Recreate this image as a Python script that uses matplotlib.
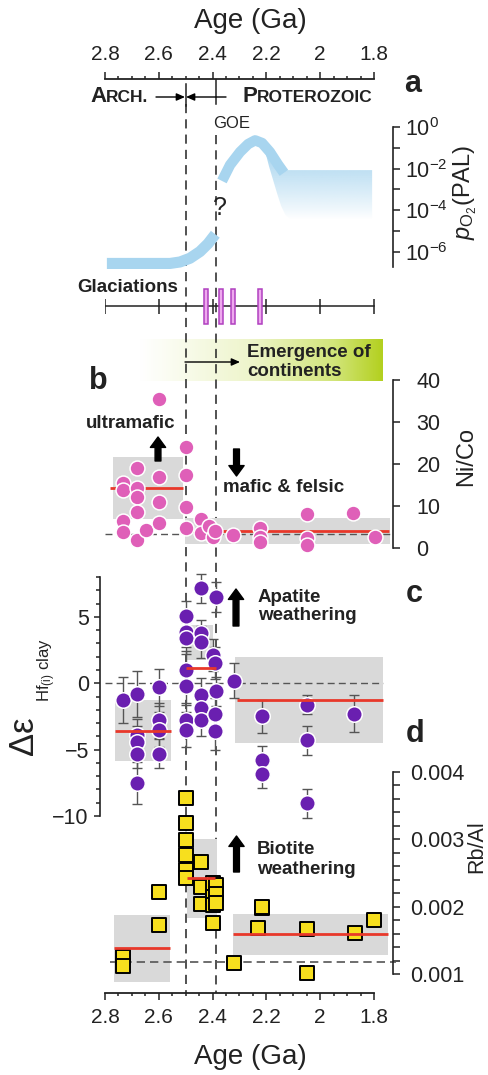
import numpy as np
import matplotlib.pyplot as plt
from matplotlib.colors import LinearSegmentedColormap, to_rgb
from matplotlib.patches import Polygon, FancyArrowPatch

plt.rcParams['font.family'] = ['Liberation Sans', 'DejaVu Sans']
plt.rcParams['mathtext.fontset'] = 'custom'
plt.rcParams['mathtext.rm'] = 'Liberation Sans'
plt.rcParams['mathtext.it'] = 'Liberation Sans:italic'
plt.rcParams['mathtext.bf'] = 'Liberation Sans:bold'

# ---------------- data ----------------
age_ticks = [2.8, 2.6, 2.4, 2.2, 2.0, 1.8]
age_labels = ['2.8', '2.6', '2.4', '2.2', '2', '1.8']
vline_ages = [2.5, 2.386]            # Archean/Proterozoic boundary, GOE

# a: pO2 (log10 PAL)
arch_age = [2.793, 2.558, 2.521, 2.484, 2.447, 2.417, 2.39]
arch_log = [-6.55, -6.55, -6.48, -6.3, -5.98, -5.6, -5.15]
goe_age = [2.365, 2.335, 2.298, 2.268, 2.242, 2.216, 2.187, 2.157, 2.135]
goe_log = [-2.59, -1.82, -1.2, -0.82, -0.64, -0.77, -1.2, -1.8, -2.2]
plat_age = [2.215, 2.19, 2.16, 2.14, 1.807, 1.807, 2.10, 2.13, 2.145, 2.16, 2.175, 2.19, 2.20]
plat_log = [-0.75, -1.2, -1.75, -2.07, -2.07, -4.6, -4.6, -4.2, -3.8, -3.2, -2.55, -1.9, -1.4]
glac_age = [2.424, 2.368, 2.325, 2.225]

# b: Ni/Co
nico_age = [2.733, 2.733, 2.733, 2.733, 2.682, 2.682, 2.682, 2.682, 2.682, 2.649,
            2.60, 2.60, 2.60, 2.60, 2.50, 2.50, 2.50, 2.50,
            2.443, 2.443, 2.412, 2.397, 2.392, 2.323,
            2.224, 2.224, 2.224, 2.05, 2.05, 2.05, 1.877, 1.796]
nico = [15.5, 13.8, 6.5, 3.9, 19.0, 14.3, 12.2, 8.6, 1.9, 4.3,
        35.4, 17.0, 11.0, 5.9, 24.1, 17.4, 9.8, 4.8,
        6.8, 3.5, 5.2, 2.6, 4.0, 3.1,
        4.7, 2.7, 1.5, 8.1, 2.3, 0.7, 8.3, 2.7]
nico_box = [(2.77, 2.51, 6.8, 21.6), (2.503, 1.74, 1.0, 7.1)]
nico_mean = [(2.78, 2.51, 14.2), (2.49, 1.745, 4.0)]
nico_ref = 3.3

# c: delta epsilon Hf(i) clay
hf_age = [2.733, 2.682, 2.682, 2.682, 2.682, 2.682,
          2.60, 2.60, 2.60, 2.60,
          2.50, 2.50, 2.50, 2.50, 2.50, 2.50, 2.50,
          2.443, 2.443, 2.443, 2.443, 2.443, 2.443,
          2.387, 2.397, 2.392, 2.387, 2.392, 2.392,
          2.32, 2.218, 2.218, 2.218, 2.05, 2.05, 2.05, 1.873]
hf = [-1.26, -0.8, -3.9, -4.4, -5.3, -7.5,
      -0.3, -2.8, -3.5, -5.3,
      5.07, 3.9, 3.4, 1.0, -0.2, -2.8, -3.5,
      7.15, 3.8, 3.1, -0.9, -1.9, -2.8,
      6.5, 2.1, 1.5, -0.6, -2.3, -3.6,
      0.2, -2.5, -5.8, -6.8, -1.6, -4.3, -9.05, -2.3]
hf_err = [1.76, 1.76, 1.2, 1.2, 1.1, 1.6,
          1.38, 1.3, 1.3, 1.1,
          1.1, 1.2, 1.2, 1.4, 1.3, 1.2, 1.3,
          1.07, 1.0, 1.2, 1.3, 1.3, 1.2,
          1.1, 1.2, 1.2, 1.1, 1.2, 1.4,
          1.3, 1.26, 1.1, 1.1, 0.75, 1.1, 1.1, 1.4]
hf_box = [(2.763, 2.556, -5.86, -1.26), (2.496, 2.397, 1.76, 4.4), (2.317, 1.765, -4.5, 2.0)]
hf_mean = [(2.763, 2.556, -3.57), (2.5, 2.388, 1.13), (2.311, 1.765, -1.26)]
hf_ref = 0.0

# d: Rb/Al
rb_age = [2.50, 2.50, 2.50, 2.50, 2.50, 2.50,
          2.443, 2.443, 2.443,
          2.397, 2.397, 2.397, 2.397, 2.387, 2.387, 2.387,
          2.60, 2.60, 2.733, 2.733, 2.32,
          2.218, 2.215, 2.23, 2.05, 2.05, 1.87, 1.80]
rb = [0.003607, 0.003245, 0.002988, 0.002766, 0.002543, 0.00242,
      0.002666, 0.002286, 0.002039,
      0.002346, 0.002147, 0.002024, 0.001761, 0.00232, 0.00218, 0.00205,
      0.002221, 0.001727, 0.001257, 0.001123, 0.001158,
      0.001975, 0.00200, 0.001687, 0.001663, 0.00102, 0.001604, 0.001801]
rb_box = [(2.765, 2.558, 0.000877, 0.001875), (2.496, 2.385, 0.001835, 0.003003),
          (2.323, 1.747, 0.001282, 0.001885)]
rb_mean = [(2.765, 2.558, 0.001381), (2.497, 2.390, 0.00242), (2.323, 1.747, 0.001589)]
rb_ref = 0.001183

# ---------------- layout ----------------
W, H = 488, 1075
fig = plt.figure(figsize=(W / 100, H / 100), dpi=100)
PX_L, PX_R, PX_PER_GA = 105, 393, 269
AGE_L = 2.8
AGE_R = AGE_L - (PX_R - PX_L) / PX_PER_GA
INK = '#222222'
BOXC = '#d9d9d9'
RED = '#e8382a'
BLUE = '#a8d5ef'


def add_panel(ytop, ybot):
    ax = fig.add_axes([PX_L / W, 1 - ybot / H, (PX_R - PX_L) / W, (ybot - ytop) / H])
    ax.set_xlim(AGE_L, AGE_R)
    ax.patch.set_visible(False)
    for s in ax.spines.values():
        s.set_visible(False)
    ax.set_xticks([])
    return ax


def right_axis(ax, lo, hi, pad):
    ax.spines['right'].set_visible(True)
    ax.spines['right'].set_bounds(lo, hi)
    ax.spines['right'].set_color(INK)
    ax.spines['right'].set_linewidth(1.2)
    ax.yaxis.set_ticks_position('right')
    ax.tick_params(axis='y', which='both', direction='out', length=5, width=1.1,
                   colors=INK, labelsize=15.5, pad=pad)


def ftext(px, py, s, **kw):
    return fig.text(px / W, 1 - py / H, s, color=INK, **kw)


def farrow(x0, y0, x1, y1, style, lw=1.0):
    fig.add_artist(FancyArrowPatch((x0 / W, 1 - y0 / H), (x1 / W, 1 - y1 / H),
                                   transform=fig.transFigure, arrowstyle=style,
                                   mutation_scale=10, shrinkA=0, shrinkB=0,
                                   color='k', lw=lw))


def small_caps(px, py, big, rest):
    # first letter large, rest as small capitals on the same baseline
    t = ftext(px, py, big, fontsize=16, fontweight='bold', va='baseline')
    fig.canvas.draw()
    bb = t.get_window_extent(fig.canvas.get_renderer())
    fig.text(bb.x1 / fig.bbox.width, 1 - py / H, rest, fontsize=12.5, fontweight='bold',
             color=INK, va='baseline')


BLOCK = 'simple,head_length=0.75,head_width=1.1,tail_width=0.42'
THIN = '-|>,head_length=0.5,head_width=0.22'

# frame with age axes (y in pixel units)
fr = add_panel(79, 993)
fr.set_ylim(993, 79)
for side in ['top', 'bottom']:
    fr.spines[side].set_visible(True)
    fr.spines[side].set_bounds(1.8, 2.8)
    fr.spines[side].set_color(INK)
    fr.spines[side].set_linewidth(1.3)
fr.set_xticks(age_ticks)
fr.set_xticklabels(age_labels)
fr.set_xticks(np.arange(1.8, 2.801, 0.05), minor=True)
fr.set_yticks([])
fr.tick_params(axis='x', which='both', top=True, labeltop=True, bottom=True, labelbottom=True,
               direction='out', colors=INK, width=1.1, labelsize=15, pad=6)
fr.tick_params(axis='x', which='major', length=5)
fr.tick_params(axis='x', which='minor', length=2.5)
ftext(250, 21, 'Age (Ga)', fontsize=20, ha='center', va='center')
ftext(250, 1057, 'Age (Ga)', fontsize=20, ha='center', va='center')

# vertical dashed lines
fr.plot([vline_ages[0]] * 2, [104, 993], ls=(0, (6, 4)), color=INK, lw=1.1, zorder=1)
fr.plot([vline_ages[1]] * 2, [135, 993], ls=(0, (6, 4)), color=INK, lw=1.1, zorder=1)
fr.plot([vline_ages[0]] * 2, [84, 106], color=INK, lw=1.1)
fr.plot([vline_ages[1]] * 2, [79, 104], color=INK, lw=1.1)

# eon labels
small_caps(90, 101.5, 'A', 'RCH.')
small_caps(242, 101.5, 'P', 'ROTEROZOIC')
farrow(156, 97, 185, 97, THIN)
farrow(226, 97, 186, 97, THIN)
ftext(232, 123, 'GOE', fontsize=12, ha='center', va='center',
      bbox=dict(fc='white', ec='none', pad=1))
ftext(413, 92, 'a', fontsize=22, fontweight='bold', ha='center', va='baseline')

# ---- panel a ----
axa = add_panel(127, 127 + 6.7 * 20.83)
axa.set_ylim(-6.7, 0)
right_axis(axa, -6.7, 0, 3.5)
axa.set_yticks([0, -2, -4, -6])
axa.set_yticklabels([r'$10^{0}$', r'$10^{-2}$', r'$10^{-4}$', r'$10^{-6}$'])
axa.set_yticks([-1, -3, -5], minor=True)
axa.plot(arch_age, arch_log, color=BLUE, lw=8, solid_capstyle='butt', clip_on=False)
axa.plot(goe_age, goe_log, color=BLUE, lw=7.5, solid_capstyle='butt', clip_on=False)
grad = np.ones((100, 1, 4))
grad[:, 0, :3] = to_rgb(BLUE)
grad[:, 0, 3] = np.clip(np.linspace(1.15, -0.05, 100), 0, 1) ** 0.9
img = axa.imshow(grad, extent=[2.25, 1.807, -4.6, -0.6], aspect='auto', origin='upper',
                 zorder=1)
poly = Polygon(np.column_stack([plat_age, plat_log]), closed=True, transform=axa.transData,
               fc='none', ec='none')
axa.add_patch(poly)
img.set_clip_path(poly)
axa.set_xlim(AGE_L, AGE_R)
axa.set_ylim(-6.7, 0)
ftext(220, 208, '?', fontsize=18, ha='center', va='center')
ftext(465, 192, r'$p_{\mathrm{O_2}}$(PAL)', fontsize=17, rotation=90, ha='center', va='center')

# glaciations
fr.plot([2.8, 1.8], [306, 306], color=INK, lw=1.1, zorder=2)
fr.vlines(age_ticks, 299, 314, color=INK, lw=1.1, zorder=2)
fr.bar(glac_age, 35, bottom=289, width=0.015, color='#eeaaee', edgecolor='#b040c0',
       lw=1.1, zorder=3)
ftext(128, 292, 'Glaciations', fontsize=13.5, fontweight='bold', ha='center', va='baseline')

# emergence of continents
cmap = LinearSegmentedColormap.from_list('em', [(0, '#ffffff'), (0.45, '#eef5cc'),
                                               (0.8, '#d2e57a'), (1, '#b3d01f')])
fr.imshow(np.linspace(0, 1, 256)[None, :], cmap=cmap, extent=[2.67, 1.768, 381.5, 340],
          aspect='auto', zorder=0)
fr.set_xlim(AGE_L, AGE_R)
fr.set_ylim(993, 79)
ftext(247, 356.5, 'Emergence of', fontsize=13.5, fontweight='bold', va='baseline')
ftext(247, 376, 'continents', fontsize=13.5, fontweight='bold', va='baseline')
farrow(185, 362, 240, 362, THIN)

# ---- panel b ----
axb = add_panel(380, 548)
axb.set_ylim(0, 40)
right_axis(axb, 0, 40, 12)
axb.set_yticks([0, 10, 20, 30, 40])
for a0, a1, lo, hi in nico_box:
    axb.fill_between([a0, a1], lo, hi, color=BOXC, lw=0, zorder=1, clip_on=False)
axb.hlines(nico_ref, 2.8, 1.74, colors='#555555', linestyles=(0, (5, 3)), lw=1, zorder=2)
for a0, a1, m in nico_mean:
    axb.hlines(m, a0, a1, colors=RED, lw=2, zorder=3)
axb.scatter(nico_age, nico, s=115, c='#df5fb8', edgecolors='white', linewidths=1.1,
            zorder=4, clip_on=False)
ftext(98, 389, 'b', fontsize=22, fontweight='bold', ha='center', va='baseline')
ftext(131, 428, 'ultramafic', fontsize=13.5, fontweight='bold', ha='center', va='baseline')
farrow(158, 461, 158, 437, BLOCK)
ftext(223, 491.5, 'mafic & felsic', fontsize=13.5, fontweight='bold', va='baseline')
farrow(236.5, 449, 236.5, 476, BLOCK)
ftext(466, 457, 'Ni/Co', fontsize=17, rotation=90, ha='center', va='center')

# ---- panel c ----
axc = add_panel(577.1, 816)
axc.set_ylim(-10, 8)
axc.spines['left'].set_visible(True)
axc.spines['left'].set_bounds(-10, 8)
axc.spines['left'].set_position(('outward', 3.6))
axc.spines['left'].set_color(INK)
axc.spines['left'].set_linewidth(1.2)
axc.set_yticks([-10, -5, 0, 5])
axc.set_yticks(np.arange(-10, 9, 1), minor=True)
axc.tick_params(axis='y', which='both', direction='out', colors=INK, width=1.1,
                labelsize=15.5, pad=3.5)
axc.tick_params(axis='y', which='major', length=4.5)
axc.tick_params(axis='y', which='minor', length=3)
for a0, a1, lo, hi in hf_box:
    axc.fill_between([a0, a1], lo, hi, color=BOXC, lw=0, zorder=1)
axc.hlines(hf_ref, 2.8, 1.765, colors='#555555', linestyles=(0, (5, 3)), lw=1, zorder=2)
axc.errorbar(hf_age, hf, yerr=hf_err, fmt='none', ecolor='#555555', elinewidth=1,
             capsize=3.5, capthick=1, zorder=3, clip_on=False)
axc.scatter(hf_age, hf, s=125, c='#6a1fb0', edgecolors='white', linewidths=1.1,
            zorder=4, clip_on=False)
for a0, a1, m in hf_mean:
    axc.hlines(m, a0, a1, colors=RED, lw=2, zorder=5)
ftext(24, 736, 'Δε', fontsize=25, rotation=90, ha='center', va='center')
ftext(47, 670, r'Hf$_{\mathrm{(i)}}$ clay', fontsize=12, rotation=90, ha='center', va='center')
ftext(414, 602, 'c', fontsize=22, fontweight='bold', ha='center', va='baseline')
ftext(258, 601.5, 'Apatite', fontsize=13.5, fontweight='bold', va='baseline')
ftext(258, 620, 'weathering', fontsize=13.5, fontweight='bold', va='baseline')
farrow(236, 626, 236, 589, BLOCK)

# ---- panel d ----
axd = add_panel(771.7, 974)
axd.set_ylim(0.001, 0.004)
right_axis(axd, 0.001, 0.004, 7)
axd.set_yticks([0.001, 0.002, 0.003, 0.004])
axd.set_yticklabels(['0.001', '0.002', '0.003', '0.004'])
axd.set_yticks(np.arange(0.001, 0.00401, 0.0002), minor=True)
for a0, a1, lo, hi in rb_box:
    axd.fill_between([a0, a1], lo, hi, color=BOXC, lw=0, zorder=1, clip_on=False)
axd.hlines(rb_ref, 2.78, 1.72, colors='#555555', linestyles=(0, (5, 3)), lw=1.2, zorder=2,
           clip_on=False)
axd.scatter(rb_age, rb, s=105, marker='s', c='#f7df1e', edgecolors='black', linewidths=1.4,
            zorder=4, clip_on=False)
for a0, a1, m in rb_mean:
    axd.hlines(m, a0, a1, colors=RED, lw=2, zorder=5)
ftext(415, 742, 'd', fontsize=22, fontweight='bold', ha='center', va='baseline')
ftext(257, 853.5, 'Biotite', fontsize=13.5, fontweight='bold', va='baseline')
ftext(257, 873.5, 'weathering', fontsize=13.5, fontweight='bold', va='baseline')
farrow(236.5, 872, 236.5, 836, BLOCK)
ftext(477, 847, 'Rb/Al', fontsize=15.5, rotation=90, ha='center', va='center')

fig.savefig('out.png', dpi=100)
